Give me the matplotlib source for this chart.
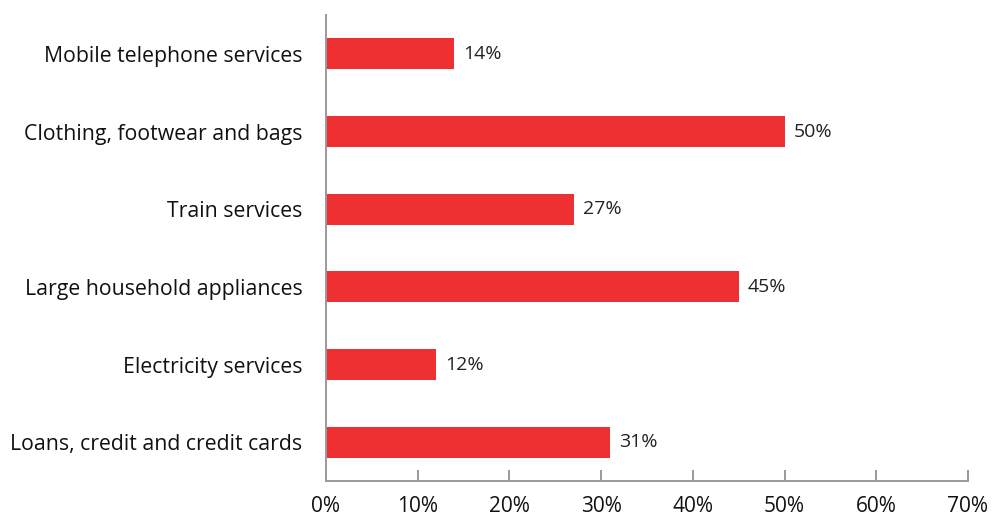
import matplotlib.pyplot as plt

plt.rcParams["font.family"] = ["Open Sans", "DejaVu Sans"]

categories = [
    "Mobile telephone services",
    "Clothing, footwear and bags",
    "Train services",
    "Large household appliances",
    "Electricity services",
    "Loans, credit and credit cards",
]
values = [14, 50, 27, 45, 12, 31]
x_ticks = [0, 10, 20, 30, 40, 50, 60, 70]

bar_color = "#ee3033"
axis_color = "#9a9a9a"

fig = plt.figure(figsize=(9.92, 5.18), dpi=100)
ax = fig.add_axes([0.3286, 0.0714, 0.6472, 0.8996])

pos = list(range(len(categories)))[::-1]
ax.barh(pos, values, height=0.4, color=bar_color)

for y, v in zip(pos, values):
    ax.text(v + 1.0, y, f"{v}%", va="center", ha="left", fontsize=14, color="#222222")

ax.set_xlim(0, 70)
ax.set_ylim(-0.5, len(categories) - 0.5)
ax.set_yticks(pos)
ax.set_yticklabels(categories, fontsize=15.3, color="#111111")
ax.set_xticks(x_ticks)
ax.set_xticklabels([f"{t}%" for t in x_ticks], fontsize=15, color="#111111")

for side in ["top", "right"]:
    ax.spines[side].set_visible(False)
for side in ["left", "bottom"]:
    ax.spines[side].set_color(axis_color)
    ax.spines[side].set_linewidth(1.4)

ax.tick_params(axis="y", length=0, pad=17)
ax.tick_params(axis="x", direction="in", length=8, width=1.4, color=axis_color, pad=11)

fig.savefig("out.png", dpi=100)
